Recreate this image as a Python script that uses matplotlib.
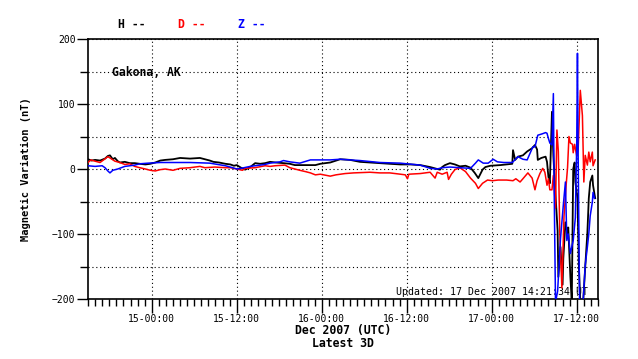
import matplotlib
matplotlib.use("Agg")
import matplotlib.pyplot as plt
from matplotlib.ticker import FixedLocator, MultipleLocator

# time in hours relative to 15 Dec 2007 00:00 UTC, values in nT
h_t = [-9.0, -8.5, -8.0, -7.3, -6.6, -6.2, -5.9, -5.5, -5.2, -4.8, -4.5, -3.8, -3.1,
       -2.4, -1.7, -0.9, -0.2, 0.5, 1.2, 1.9, 3.0, 4.0, 5.4, 6.8, 7.5, 8.2, 8.7, 9.5,
       10.4, 11.1, 11.6, 12.0, 12.6, 13.2, 13.9, 14.6, 15.3, 16.0, 16.7, 17.5, 18.6,
       19.5, 20.2, 21.7, 23.1, 23.8, 25.2, 26.6, 28.0, 29.4, 30.8, 32.2, 33.6, 35.1,
       36.5, 37.9, 39.3, 40.3, 40.7, 41.0, 41.4, 42.1, 42.8, 43.5, 44.3, 45.0, 45.6,
       46.1, 46.7, 47.1, 47.8, 49.2, 50.9, 51.0, 51.3, 51.7, 52.4, 53.0, 53.7, 54.1,
       54.4, 54.5, 55.0, 55.6, 55.8, 56.0, 56.2, 56.5, 56.7, 57.0, 57.3, 57.4, 57.7,
       58.0, 58.1, 58.4, 58.7, 58.8, 59.1, 59.3, 59.4, 59.5, 59.7, 59.8, 60.1, 60.3,
       60.5, 60.9, 61.2, 61.5, 61.7, 61.9, 62.2, 62.3, 62.6]
h_v = [15, 13, 14, 13, 16, 20, 21, 15, 17, 12, 10, 11, 9,
       9, 8, 7, 8, 10, 13, 14, 15, 17, 16, 17, 15, 13, 11, 10,
       8, 7, 5, 6, 2, -1, 3, 9, 8, 9, 11, 10, 9,
       8, 6, 6, 6, 8, 10, 15, 14, 11, 10, 9, 8, 7,
       7, 6, 3, 0, -1, 3, 6, 9, 7, 4, 5, 2, -6,
       -14, -1, 3, 5, 6, 8, 29, 14, 19, 21, 27, 32, 37,
       30, 14, 17, 19, 11, -12, -22, 88, 20, -40, -95, -166, -120,
       -178, -138, -82, -100, -90, -166, -205, -100, 0, 10, -20, -45, -150,
       -205, -205, -150, -98, -45, -20, -10, -25, -45]

d_t = [-9.0, -8.6, -8.0, -7.3, -6.8, -6.2, -5.9, -5.2, -4.5, -3.8, -3.1, -2.4, -1.7,
       -0.9, -0.2, 0.5, 1.2, 1.9, 3.0, 4.0, 5.4, 6.8, 7.5, 8.9, 10.4, 11.1, 12.0,
       12.8, 13.2, 14.6, 16.0, 16.7, 17.4, 18.8, 19.5, 20.2, 20.9, 21.7, 22.4, 23.1,
       23.8, 25.2, 26.0, 27.3, 28.5, 30.8, 32.2, 33.6, 35.1, 35.8, 36.1, 36.3, 37.9,
       39.3, 40.0, 40.3, 41.0, 41.7, 41.9, 42.3, 42.8, 43.5, 44.3, 45.0, 45.7, 46.1,
       46.7, 47.4, 48.1, 48.9, 50.1, 51.0, 51.4, 52.0, 52.4, 53.1, 53.7, 54.1, 54.4,
       54.8, 55.2, 55.5, 55.8, 56.0, 56.2, 56.5, 56.7, 57.0, 57.2, 57.4, 57.6, 57.9,
       58.2, 58.5, 58.7, 58.9, 59.1, 59.4, 59.5, 59.7, 60.0, 60.2, 60.5, 60.8, 61.0,
       61.2, 61.5, 61.7, 61.9, 62.2, 62.3, 62.6]
d_v = [10, 14, 12, 10, 14, 19, 17, 12, 10, 7, 8, 4, 2,
       0, -2, -3, -1, 0, -2, 1, 2, 4, 2, 3, 2, 2, 0,
       -2, 1, 2, 5, 4, 5, 6, 2, 0, -2, -4, -6, -9,
       -8, -11, -9, -7, -6, -5, -6, -6, -8, -9, -15, -8, -7,
       -5, -14, -5, -8, -5, -16, -8, -1, 2, -4, -14, -22, -30,
       -22, -17, -18, -17, -17, -18, -15, -20, -15, -6, -14, -32, -18,
       -7, 1, -5, -25, -15, -32, -32, -10, -60, 60, 27, -96, -183,
       -73, -25, 2, 50, 40, 38, 25, 38, 20, 30, 121, 82, -20,
       21, 6, 26, 11, 26, 5, 14]

z_t = [-9.0, -8.0, -7.0, -6.6, -6.2, -5.9, -5.5, -4.8, -3.8, -2.4, -1.7, -0.5, 1.2,
       4.0, 5.4, 8.2, 10.4, 11.4, 12.0, 12.6, 13.9, 15.3, 16.0, 16.7, 18.1, 18.6,
       19.5, 20.2, 20.9, 22.4, 23.8, 25.2, 26.6, 29.4, 32.2, 35.1, 37.9, 39.3, 40.3,
       41.0, 42.1, 43.5, 45.0, 45.7, 46.1, 46.8, 47.5, 48.2, 48.8, 49.7, 50.9, 51.0,
       51.7, 52.4, 53.0, 53.4, 53.8, 54.1, 54.5, 55.1, 55.6, 55.8, 56.0, 56.2, 56.5,
       56.7, 56.8, 57.0, 57.3, 57.7, 58.1, 58.4, 58.6, 58.8, 59.1, 59.5, 59.8, 60.0,
       60.1, 60.2, 60.4, 60.9, 61.2, 61.5, 61.7, 61.9, 62.2, 62.3, 62.5]
z_v = [5, 4, 5, 2, -3, -6, -2, 0, 4, 6, 8, 9, 10,
       10, 10, 9, 5, 2, 0, 1, 4, 6, 7, 9, 11, 13,
       11, 10, 9, 14, 14, 14, 15, 13, 10, 9, 6, 1, 0,
       2, 3, 2, 1, 9, 14, 9, 9, 15, 11, 10, 10, 11,
       19, 15, 14, 24, 34, 34, 52, 54, 56, 55, 47, 40, 37,
       116, -20, -205, -188, -108, -56, -20, -110, -100, -130, -110, -75, 40,
       178, 20, -205, -205, -148, -120, -100, -72, -51, -36, -45]

x_ticks = [0, 12, 24, 36, 48, 60]
x_labels = ["15-00:00", "15-12:00", "16-00:00", "16-12:00", "17-00:00", "17-12:00"]

mono = "DejaVu Sans Mono"
plt.rcParams["font.family"] = mono

fig = plt.figure(figsize=(6.38, 3.59), dpi=100)
ax = fig.add_axes([88 / 638, 1 - 299 / 359, 510 / 638, 260 / 359])

ax.plot(h_t, h_v, color="black", lw=1.3, zorder=3)
ax.plot(d_t, d_v, color="red", lw=1.1, zorder=4)
ax.plot(z_t, z_v, color="blue", lw=1.1, zorder=5)

ax.set_xlim(-9, 63)
ax.set_ylim(-200, 200)

ax.xaxis.set_major_locator(FixedLocator(x_ticks))
ax.set_xticklabels(x_labels)
ax.xaxis.set_minor_locator(MultipleLocator(1))
ax.yaxis.set_major_locator(MultipleLocator(100))
ax.yaxis.set_minor_locator(MultipleLocator(50))

ax.tick_params(axis="x", which="major", length=10, width=1, pad=0.5, labelsize=7)
ax.tick_params(axis="x", which="minor", length=5, width=1)
ax.tick_params(axis="y", which="major", length=8, width=1, pad=1, labelsize=7)
ax.tick_params(axis="y", which="minor", length=6, width=1)

for s in ax.spines.values():
    s.set_linewidth(1.2)

ax.grid(True, which="major", axis="x", color="black", linestyle=(0, (1, 2.5)), lw=0.8)
ax.grid(True, which="both", axis="y", color="black", linestyle=(0, (1, 2.5)), lw=0.8)
ax.set_axisbelow(True)

ax.set_ylabel("Magnetic Variation (nT)", fontsize=7.5, fontweight="bold")
ax.yaxis.set_label_coords(-0.112, 0.5)
ax.set_xlabel("Dec 2007 (UTC)\nLatest 3D", fontsize=8.3, fontweight="bold",
              linespacing=1.0, labelpad=0)

ax.text(0.048, 0.87, "Gakona, AK", transform=ax.transAxes, fontsize=8.3,
        fontweight="bold", va="center", ha="left")
ax.text(0.98, 0.027, "Updated: 17 Dec 2007 14:21:34 UT", transform=ax.transAxes,
        fontsize=7.1, va="center", ha="right", zorder=1)

for x0, txt, col in [(118, "H --", "black"), (178, "D --", "red"), (238, "Z --", "blue")]:
    fig.text(x0 / 638, 1 - 24 / 359, txt, color=col, fontsize=8.3, fontweight="bold",
             va="center", ha="left")

fig.savefig("out.png", dpi=100)
